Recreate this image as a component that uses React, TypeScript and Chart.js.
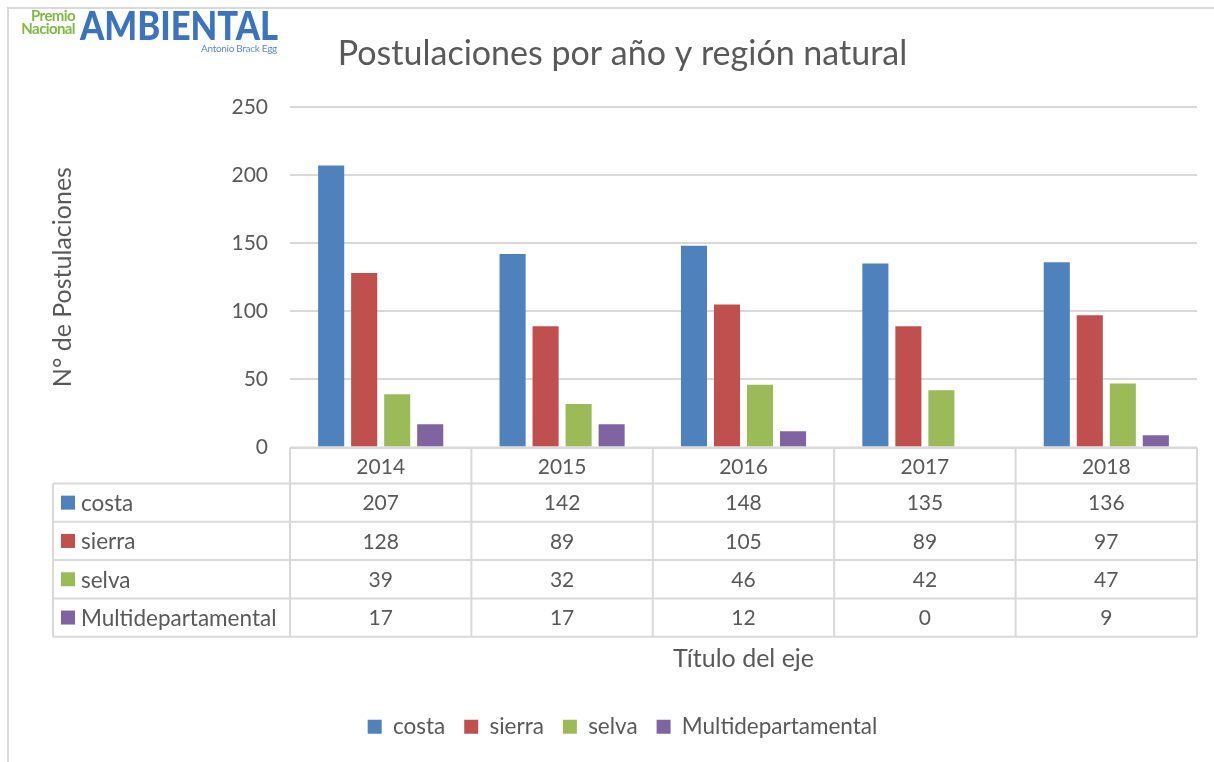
import React, { useEffect, useRef } from "react";
import { Chart, registerables } from "chart.js";

Chart.register(...registerables);

const categories = ["2014", "2015", "2016", "2017", "2018"];
const seriesNames = ["costa", "sierra", "selva", "Multidepartamental"];
const costa = [207, 142, 148, 135, 136];
const sierra = [128, 89, 105, 89, 97];
const selva = [39, 32, 46, 42, 47];
const multidepartamental = [17, 17, 12, 0, 9];
const seriesValues = [costa, sierra, selva, multidepartamental];
const seriesColors = ["#4f81bd", "#c0504d", "#9bbb59", "#8064a2"];

const chartTitle = "Postulaciones por año y región natural";
const yAxisTitle = "N° de Postulaciones";
const xAxisTitle = "Título del eje";

const FONT = "Lato";
const TEXT = "#595959";
const LINE = "#d9d9d9";

const framePlugin = {
  id: "frame",
  beforeDraw(chart: any) {
    const { ctx, width, height } = chart;
    ctx.save();
    ctx.fillStyle = "#ffffff";
    ctx.fillRect(0, 0, width, height);
    ctx.strokeStyle = LINE;
    ctx.lineWidth = 2;
    ctx.beginPath();
    ctx.moveTo(8, height);
    ctx.lineTo(8, 8);
    ctx.lineTo(width, 8);
    ctx.stroke();
    ctx.restore();
  },
};

const tablePlugin = {
  id: "dataTable",
  afterDraw(chart: any) {
    const { ctx, chartArea } = chart;
    const x = chart.scales.x;
    const n = categories.length;
    const colW = x.width / n;
    const top = chartArea.bottom;
    const headerH = 36;
    const rowH = 38.3;
    const labelLeft = chartArea.left - 237;
    const tableBottom = top + headerH + rowH * seriesNames.length;
    const line = (x1: number, y1: number, x2: number, y2: number) => {
      ctx.beginPath();
      ctx.moveTo(x1, y1);
      ctx.lineTo(x2, y2);
      ctx.stroke();
    };
    ctx.save();
    ctx.strokeStyle = LINE;
    ctx.lineWidth = 2;
    line(x.left, top, x.right, top);
    for (let r = 0; r <= seriesNames.length; r++) {
      const y = top + headerH + r * rowH;
      line(labelLeft, y, x.right, y);
    }
    for (let i = 0; i <= n; i++) {
      const xx = x.getPixelForValue(Math.min(i, n - 1)) + (i === n ? colW / 2 : -colW / 2);
      line(xx, top, xx, tableBottom);
    }
    line(labelLeft, top + headerH, labelLeft, tableBottom);

    ctx.fillStyle = TEXT;
    ctx.textBaseline = "middle";
    seriesNames.forEach((name, r) => {
      const cy = top + headerH + r * rowH + rowH / 2;
      ctx.fillStyle = seriesColors[r];
      ctx.fillRect(labelLeft + 8, cy - 7, 14, 14);
      ctx.fillStyle = TEXT;
      ctx.textAlign = "left";
      ctx.font = `22.5px ${FONT}`;
      ctx.fillText(name, labelLeft + 28, cy + 1);
      ctx.textAlign = "center";
      ctx.font = `21px ${FONT}`;
      seriesValues[r].forEach((v, i) => {
        ctx.fillText(String(v), x.getPixelForValue(i), cy + 1);
      });
    });
    ctx.restore();
  },
};

export default function App() {
  const canvasRef = useRef<HTMLCanvasElement | null>(null);

  useEffect(() => {
    if (!canvasRef.current) return;
    const chart = new Chart(canvasRef.current, {
      type: "bar",
      data: {
        labels: categories,
        datasets: seriesNames.map((name, i) => ({
          label: name,
          data: seriesValues[i],
          backgroundColor: seriesColors[i],
          borderWidth: 0,
          categoryPercentage: 0.728,
          barPercentage: 0.79,
        })),
      },
      options: {
        animation: false,
        responsive: true,
        maintainAspectRatio: false,
        layout: { padding: { left: 48, right: 17, top: 0, bottom: 14 } },
        plugins: {
          title: {
            display: true,
            text: chartTitle,
            color: TEXT,
            font: { family: FONT, size: 34, weight: "normal" },
            padding: { top: 34, bottom: 32 },
          },
          legend: {
            position: "bottom",
            labels: {
              boxWidth: 14,
              boxHeight: 14,
              padding: 19,
              color: TEXT,
              font: { family: FONT, size: 22.5 },
            },
          },
          tooltip: { enabled: false },
        },
        scales: {
          x: {
            grid: { display: false, drawTicks: false },
            border: { display: false },
            ticks: { padding: 7, color: TEXT, font: { family: FONT, size: 21 } },
            title: {
              display: true,
              text: xAxisTitle,
              color: TEXT,
              font: { family: FONT, size: 25 },
              padding: { top: 0, bottom: 23 },
            },
            afterFit(scale: any) {
              scale.height = 249;
            },
          },
          y: {
            min: 0,
            max: 250,
            ticks: { stepSize: 50, padding: 22, color: TEXT, font: { family: FONT, size: 21 } },
            grid: { color: LINE, lineWidth: 2, drawTicks: false },
            border: { display: false },
            title: {
              display: true,
              text: yAxisTitle,
              color: TEXT,
              font: { family: FONT, size: 25 },
              padding: 0,
            },
            afterFit(scale: any) {
              scale.width = 242;
            },
          },
        },
      },
      plugins: [framePlugin, tablePlugin],
    });
    return () => chart.destroy();
  }, []);

  return (
    <div style={{ position: "absolute", left: 0, top: 0, width: 1214, height: 762 }}>
      <canvas ref={canvasRef} />
      <div style={{ position: "absolute", left: 10, top: 9, width: 65, textAlign: "right", color: "#7dbb42", fontFamily: FONT, fontWeight: 700, fontSize: 15, lineHeight: "13px", letterSpacing: -0.6 }}>
        <div>Premio</div>
        <div>Nacional</div>
      </div>
      <div style={{ position: "absolute", left: 80, top: 2, color: "#3b74bd", fontFamily: FONT, fontWeight: 900, fontSize: 40, lineHeight: "46px", transform: "scaleX(0.865)", transformOrigin: "left top", whiteSpace: "nowrap" }}>
        AMBIENTAL
      </div>
      <div style={{ position: "absolute", left: 201, top: 42, color: "#5b8bd0", fontFamily: FONT, fontSize: 10, lineHeight: "12px", letterSpacing: -0.3, whiteSpace: "nowrap" }}>
        Antonio Brack Egg
      </div>
    </div>
  );
}
